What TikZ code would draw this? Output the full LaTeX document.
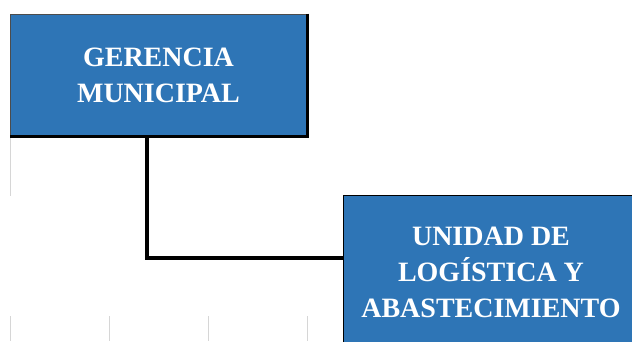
\documentclass[tikz,border=0pt]{standalone}
\usepackage{fontspec}
\setmainfont{Liberation Serif}
\definecolor{azulcaja}{RGB}{46,117,182}
\definecolor{grilla}{RGB}{214,214,214}
\begin{document}
\begin{tikzpicture}[x=1pt,y=-1pt,
    caja/.style={fill=azulcaja, draw=black!70, line width=.8pt, text=white,
      font=\bfseries\fontsize{28}{36}\selectfont, align=center, inner sep=0pt},
    conector/.style={line width=3.6pt, black, line cap=rect}]
\useasboundingbox (0,0) rectangle (632,341);
\clip (0,0) rectangle (632,341);
    \draw[grilla, line width=.8pt] (10,135)--(10,196);
    \foreach \x in {10,109,208,307} \draw[grilla, line width=.8pt] (\x,316)--(\x,341);
\node[caja, minimum width=297pt, minimum height=122pt] (ger) at (158.5,75) {GERENCIA\\MUNICIPAL};
    \draw[line width=2.2pt] (ger.north east)--(ger.south east)--(ger.south west);
\node[caja, draw=black, minimum width=296pt, minimum height=154pt] (uni) at (491,272) {UNIDAD DE\\LOGÍSTICA Y\\ABASTECIMIENTO};
    \draw[conector] ([xshift=-11.5pt]ger.south) |- ([yshift=14pt]uni.west);
\end{tikzpicture}
\end{document}
